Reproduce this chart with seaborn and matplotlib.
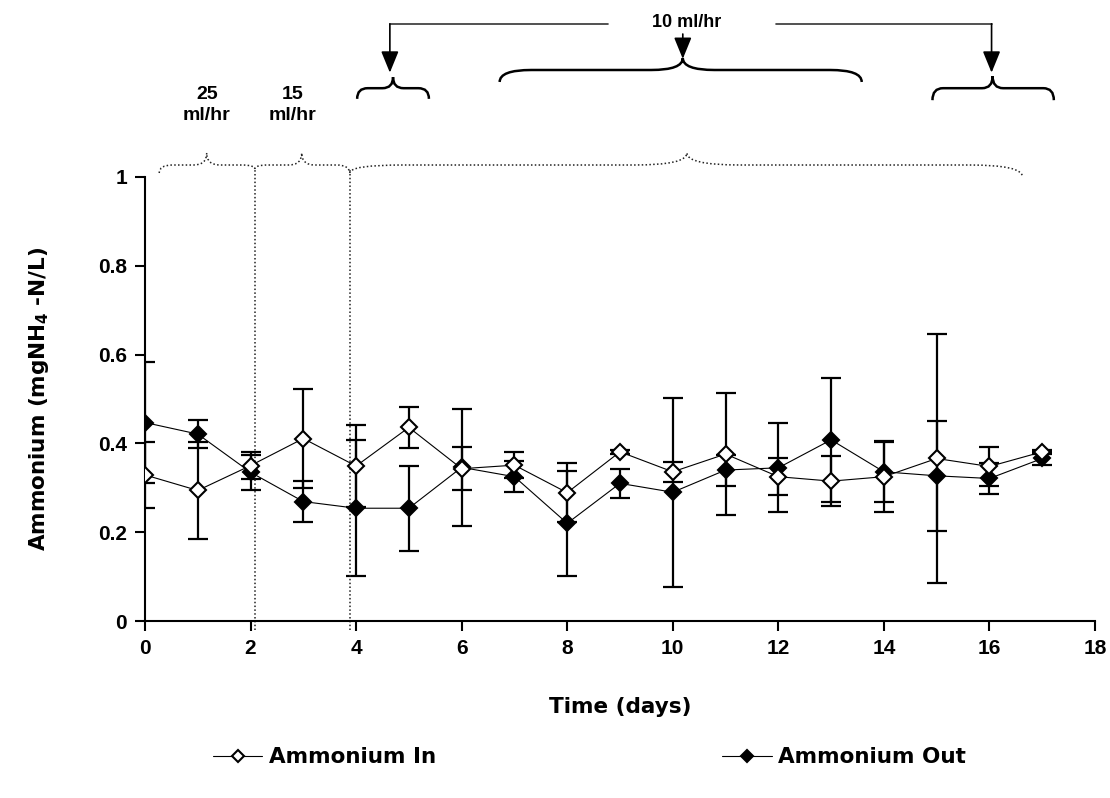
import numpy as np
import pandas as pd
import matplotlib
matplotlib.use("Agg")
import matplotlib.pyplot as plt
import seaborn as sns
from matplotlib.path import Path
from matplotlib.patches import PathPatch

# ---------------- data ----------------
days = [0, 1, 2, 3, 4, 5, 6, 7, 8, 9, 10, 11, 12, 13, 14, 15, 16, 17]
in_vals = [0.329, 0.294, 0.350, 0.411, 0.349, 0.436, 0.343, 0.351, 0.289, 0.381,
           0.336, 0.376, 0.325, 0.315, 0.325, 0.366, 0.348, 0.381]
in_err = [0.075, 0.110, 0.030, 0.111, 0.092, 0.047, 0.048, 0.030, 0.066, 0.005,
          0.022, 0.137, 0.042, 0.057, 0.080, 0.280, 0.045, 0.005]
out_vals = [0.447, 0.421, 0.335, 0.269, 0.254, 0.254, 0.346, 0.325, 0.220, 0.310,
            0.290, 0.340, 0.345, 0.408, 0.336, 0.327, 0.321, 0.366]
out_err = [0.136, 0.031, 0.040, 0.047, 0.153, 0.096, 0.131, 0.035, 0.118, 0.033,
           0.213, 0.035, 0.100, 0.140, 0.068, 0.124, 0.035, 0.014]
series_names = ["Ammonium In", "Ammonium Out"]
x_ticks = [0, 2, 4, 6, 8, 10, 12, 14, 16, 18]
y_ticks = [0, 0.2, 0.4, 0.6, 0.8, 1]
y_tick_labels = ["0", "0.2", "0.4", "0.6", "0.8", "1"]
flow_labels = ["25\nml/hr", "15\nml/hr", "10 ml/hr"]
period_bounds = [2.08, 3.88]

df = pd.DataFrame({
    "day": days * 2,
    "value": in_vals + out_vals,
    "err": in_err + out_err,
    "series": [series_names[0]] * len(days) + [series_names[1]] * len(days),
})

# ---------------- style ----------------
sns.set_theme(style="ticks")
plt.rcParams["font.family"] = ["Liberation Sans", "DejaVu Sans"]
plt.rcParams["mathtext.default"] = "bf"
plt.rcParams["mathtext.fontset"] = "dejavusans"
plt.rcParams["axes.linewidth"] = 1.5
for k in ["text.color", "axes.labelcolor", "xtick.color", "ytick.color", "axes.edgecolor"]:
    plt.rcParams[k] = "black"

fig = plt.figure(figsize=(11.1, 7.98), dpi=100)
ax = fig.add_axes([0.1306, 0.2218, 0.8559, 0.5564])

# error bars
for name in series_names:
    sub = df[df["series"] == name]
    ax.errorbar(sub["day"], sub["value"], yerr=sub["err"], fmt="none",
                ecolor="black", elinewidth=1.6, capsize=7, capthick=1.6, zorder=2)

# lines + markers via seaborn
sub_in = df[df["series"] == series_names[0]]
sub_out = df[df["series"] == series_names[1]]
sns.lineplot(data=sub_in, x="day", y="value", ax=ax, color="black", lw=0.8,
             marker="D", markersize=8.5, markerfacecolor="white",
             markeredgecolor="black", markeredgewidth=1.5, label=series_names[0],
             zorder=4)
sns.lineplot(data=sub_out, x="day", y="value", ax=ax, color="black", lw=0.8,
             marker="D", markersize=8.5, markerfacecolor="black",
             markeredgecolor="black", markeredgewidth=1.5, label=series_names[1],
             zorder=3)

ax.set_xlim(0, 18)
ax.set_ylim(0, 1)
ax.set_xticks(x_ticks)
ax.set_xticklabels([str(t) for t in x_ticks], fontsize=15, fontweight="bold")
ax.set_yticks(y_ticks)
ax.set_yticklabels(y_tick_labels, fontsize=15, fontweight="bold")
ax.tick_params(axis="both", direction="out", length=7, width=1.5, colors="black", pad=6)
for s in ["top", "right"]:
    ax.spines[s].set_visible(False)
wide = ["DejaVu Sans"]
ax.set_xlabel("Time (days)", fontsize=15.5, fontweight="bold", labelpad=28,
              family=wide)
ax.set_ylabel("Ammonium (mgNH$_4$ -N/L)", fontsize=15.5, fontweight="bold",
              labelpad=34, family=wide)

# legend
ax.get_legend().remove()
h, l = ax.get_legend_handles_labels()
fig.legend(h[:2], l[:2], loc="center", bbox_to_anchor=(0.531, 0.051), ncol=2,
           frameon=False, prop={"size": 15.5, "weight": "bold", "family": wide},
           columnspacing=13.3, handlelength=2.3, handletextpad=0.3, markerscale=0.7)


# ---------------- annotations ----------------
def brace(x0, x1, xm, ye0, ye1, yt, yp, rx, **kw):
    verts = [(x0, ye0), (x0, yt), (x0 + rx, yt),
             (xm - rx, yt), (xm, yt), (xm, yp),
             (xm, yt), (xm + rx, yt),
             (x1 - rx, yt), (x1, yt), (x1, ye1)]
    codes = [Path.MOVETO, Path.CURVE3, Path.CURVE3,
             Path.LINETO, Path.CURVE3, Path.CURVE3,
             Path.CURVE3, Path.CURVE3,
             Path.LINETO, Path.CURVE3, Path.CURVE3]
    p = PathPatch(Path(verts, codes), fill=False, clip_on=False, **kw)
    ax.add_patch(p)

dot = dict(lw=1.1, ls=(0, (1, 1.5)), edgecolor="#222222")
brace(0.27, period_bounds[0], 1.17, 1.009, 1.018, 1.027, 1.054, 0.25, **dot)
brace(period_bounds[0], period_bounds[1], 2.97, 1.018, 1.009, 1.027, 1.054, 0.25, **dot)
brace(period_bounds[1], 16.63, 10.27, 1.009, 1.0, 1.027, 1.054, 1.0, **dot)
for xb in period_bounds:
    ax.plot([xb, xb], [-0.02, 1.018], color="#222222", lw=1.1,
            ls=(0, (1, 1.5)), clip_on=False)

solid = dict(lw=1.8, edgecolor="black")
brace(4.02, 5.38, 4.70, 1.176, 1.176, 1.200, 1.225, 0.2, **solid)
brace(6.72, 13.58, 10.19, 1.214, 1.214, 1.241, 1.268, 0.6, **solid)
brace(14.92, 17.22, 16.06, 1.173, 1.173, 1.200, 1.227, 0.2, **solid)

ytop = 1.345
ax.plot([4.64, 8.77], [ytop, ytop], color="#333333", lw=1.2, clip_on=False)
ax.plot([11.95, 16.04], [ytop, ytop], color="#333333", lw=1.2, clip_on=False)
arrow_kw = dict(arrowstyle="-|>,head_width=0.45,head_length=1.1", color="black",
                lw=1.2, shrinkA=0, shrinkB=0)
ax.annotate("", xy=(4.64, 1.235), xytext=(4.64, ytop), arrowprops=arrow_kw,
            annotation_clip=False)
ax.annotate("", xy=(16.04, 1.235), xytext=(16.04, ytop), arrowprops=arrow_kw,
            annotation_clip=False)
ax.annotate("", xy=(10.19, 1.266), xytext=(10.19, 1.322), arrowprops=arrow_kw,
            annotation_clip=False)

ax.text(1.17, 1.162, flow_labels[0], ha="center", va="center", fontsize=14,
        fontweight="bold", linespacing=1.3, clip_on=False)
ax.text(2.80, 1.162, flow_labels[1], ha="center", va="center", fontsize=14,
        fontweight="bold", linespacing=1.3, clip_on=False)
ax.text(10.27, 1.347, flow_labels[2], ha="center", va="center", fontsize=13,
        fontweight="bold", clip_on=False)

fig.savefig("out.png", dpi=100, facecolor="white")
